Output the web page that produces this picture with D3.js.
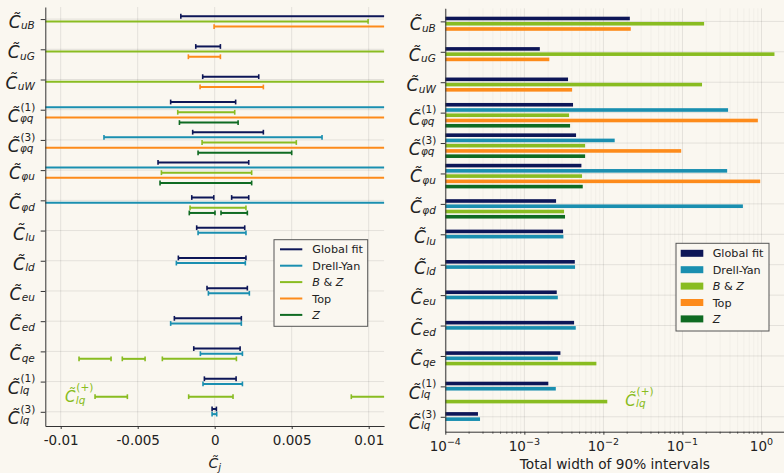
<!DOCTYPE html>
<html><head><meta charset="utf-8">
<script src="https://cdn.jsdelivr.net/npm/d3@7"></script>
<style>
html,body{margin:0;padding:0;background:#faf7f0;}
svg{display:block;font-family:"DejaVu Sans",sans-serif;}
</style></head><body>
<svg id="chart" width="784" height="473"></svg>
<script>
// ---------------- DATA ----------------
const labelSub = ["uB","uG","uW","φq","φq","φu","φd","lu","ld","eu","ed","qe","lq","lq"];
const labelSup = ["","","","(1)","(3)","","","","","","","","(1)","(3)"];
const seriesNames = ["Global fit","Drell-Yan","B & Z","Top","Z"];

// 90% intervals (left panel), one entry per coefficient, null = not constrained by that fit
const intervalsGlobal = [
  [[-0.0022, 0.0194]], [[-0.00123, 0.00037]], [[-0.00078, 0.00286]], [[-0.00286, 0.00136]],
  [[-0.00143, 0.00316]], [[-0.00368, 0.00221]], [[-0.00149, -0.00006], [0.0011, 0.00221]],
  [[-0.00117, 0.00195]], [[-0.00236, 0.00203]], [[-0.0005, 0.00212]], [[-0.00262, 0.00173]],
  [[-0.00136, 0.00165]], [[-0.00067, 0.00139]], [[-0.00017, 0.00011]]
];
const intervalsDY = [
  null, null, null, [[-0.19, 0.19]], [[-0.00719, 0.00697]], [[-0.18, 0.19]], [[-0.29, 0.29]],
  [[-0.00108, 0.00203]], [[-0.00249, 0.00199]], [[-0.00041, 0.00225]], [[-0.00286, 0.00173]],
  [[-0.00093, 0.0018]], [[-0.00076, 0.0018]], [[-0.00017, 0.00013]]
];
const intervalsBZ = [
  [[-0.178, 0.00996]], [[-0.73, 0.73]], [[-0.09, 0.087]], [[-0.0024, 0.0013]], [[-0.00082, 0.0053]],
  [[-0.00346, 0.0024]], [[-0.0016, 0.00203]], null, null, null, null,
  [[-0.00881, -0.00673], [-0.006, -0.00452], [-0.0034, 0.00141]], null, null
];
const intervalsTop = [
  [[-0.00004, 0.0222]], [[-0.00171, 0.00037]], [[-0.00095, 0.00316]], [[-0.45, 0.45]],
  [[-0.048, 0.048]], [[-0.48, 0.48]], null, null, null, null, null, null, null, null
];
const intervalsZ = [
  null, null, null, [[-0.00229, 0.00152]], [[-0.00108, 0.005]], [[-0.00355, 0.0024]],
  [[-0.00165, 0.00002], [0.00041, 0.00212]], null, null, null, null, null, null, null
];
// B & Z constraint on C_lq^(+)
const intervalsLqPlus = [[-0.00777, -0.00567], [-0.00169, 0.00119], [0.00887, 0.0151]];

// total width of 90% intervals (right panel)
const widthGlobal = [0.0216, 0.00157, 0.00357, 0.00413, 0.00451, 0.00527, 0.00252, 0.00309, 0.00435, 0.00257, 0.00426, 0.00286, 0.00201, 0.000259];
const widthDY     = [null, null, null, 0.378, 0.0139, 0.368, 0.582, 0.00312, 0.00438, 0.00265, 0.00447, 0.00265, 0.0025, 0.000275];
const widthBZ     = [0.188, 1.46, 0.177, 0.00368, 0.00587, 0.00537, 0.00318, null, null, null, null, 0.00815, null, null];
const widthTop    = [0.0222, 0.00207, 0.00402, 0.90, 0.0964, 0.963, null, null, null, null, null, null, null, null];
const widthZ      = [null, null, null, 0.00379, 0.00587, 0.00548, 0.00327, null, null, null, null, null, null, null];
const widthLqPlus = 0.0112;

const xTicksLeft = [-0.01, -0.005, 0, 0.005, 0.01];
const xTickLabelsLeft = ["-0.01", "-0.005", "0", "0.005", "0.01"];
const xTickExpRight = [-4, -3, -2, -1, 0];

// ---------------- STYLE ----------------
const BG = "#faf7f0";
const colors = ["#0d1657", "#1a8fb0", "#89bc21", "#fd8b1b", "#0f6b22"];
const INK = "#222";

const allIntervals = [intervalsGlobal, intervalsDY, intervalsBZ, intervalsTop, intervalsZ];
const allWidths = [widthGlobal, widthDY, widthBZ, widthTop, widthZ];
const nCat = labelSub.length;

const svg = d3.select("#chart");
svg.append("rect").attr("width", 784).attr("height", 473).attr("fill", BG);

function slotOffset(j, n, s) { return (j - (n >= 5 ? 1.5 : 0.55)) * s; }

// label "C~" with subscript and optional superscript (stacked); p = vertical layout
const tickLayout = { c: 17, s: 10.5, cNo: 9, subNo: 10.3, cSup: 12.4, sub: 12, sup: 0.8 };
const noteLayout = { c: 15, s: 10.5, cNo: 5.5, subNo: 7, cSup: 5.5, sub: 7.2, sup: -5.5 };
function cLabel(g, xEnd, y, sub, sup, p, color) {
  const grp = g.append("g").attr("fill", color || INK);
  const subT = grp.append("text").attr("font-style", "italic").attr("font-size", p.s).text(sub);
  let supT = null;
  if (sup) supT = grp.append("text").attr("font-size", p.s).text(sup);
  const w = Math.max(subT.node().getComputedTextLength(), supT ? supT.node().getComputedTextLength() : 0);
  const xs = xEnd - w;
  subT.attr("x", xs + 0.3).attr("y", y + (sup ? p.sub : p.subNo));
  if (supT) supT.attr("x", xs + 0.8).attr("y", y + p.sup);
  grp.append("text").attr("x", xs).attr("y", y + (sup ? p.cSup : p.cNo))
    .attr("text-anchor", "end").attr("font-style", "italic").attr("font-size", p.c).text("C\u0303");
  return grp;
}

// ================= LEFT PANEL =================
const xL = d3.scaleLinear().domain([-0.011, 0.011]).range([45.3, 384.1]);
const yL = d3.scaleLinear().domain([-0.4, 13.47]).range([7, 426]);
const gL = svg.append("g");
const [yTopL, yBotL] = yL.range();
// grid
gL.selectAll(".vg").data(xTicksLeft).join("line")
  .attr("x1", d => xL(d)).attr("x2", d => xL(d)).attr("y1", yTopL).attr("y2", yBotL)
  .attr("stroke", "#000").attr("stroke-opacity", 0.09);
gL.selectAll(".hg").data(d3.range(nCat)).join("line")
  .attr("x1", xL.range()[0]).attr("x2", xL.range()[1]).attr("y1", d => yL(d)).attr("y2", d => yL(d))
  .attr("stroke", "#000").attr("stroke-opacity", 0.09);

function drawInterval(g, x, lo, hi, y, col) {
  const [d0, d1] = x.domain();
  const a = Math.max(lo, d0), b = Math.min(hi, d1);
  if (b < a) return;
  g.append("line").attr("x1", x(a)).attr("x2", x(b)).attr("y1", y).attr("y2", y)
    .attr("stroke", col).attr("stroke-width", 2);
  if (lo >= d0) g.append("line").attr("x1", x(lo)).attr("x2", x(lo)).attr("y1", y - 2.4).attr("y2", y + 2.4).attr("stroke", col).attr("stroke-width", 1.6);
  if (hi <= d1) g.append("line").attr("x1", x(hi)).attr("x2", x(hi)).attr("y1", y - 2.4).attr("y2", y + 2.4).attr("stroke", col).attr("stroke-width", 1.6);
}

for (let i = 0; i < nCat; i++) {
  const present = allIntervals.map((arr, k) => arr[i] ? k : -1).filter(k => k >= 0);
  present.forEach((k, j) => {
    const y = yL(i) + slotOffset(j, present.length, 5.15);
    allIntervals[k][i].forEach(([lo, hi]) => drawInterval(gL, xL, lo, hi, y, colors[k]));
  });
}
intervalsLqPlus.forEach(([lo, hi]) => drawInterval(gL, xL, lo, hi, yL(12.5), colors[2]));

// axes
const axL = gL.append("g").attr("transform", `translate(0,${yBotL})`)
  .call(d3.axisBottom(xL).tickValues(xTicksLeft).tickFormat((d, i) => xTickLabelsLeft[i]).tickSize(3).tickSizeOuter(0));
axL.select(".domain").attr("stroke", "#333");
axL.selectAll(".tick line").attr("stroke", "#333");
axL.selectAll(".tick text").attr("font-size", 13.5).attr("fill", INK).attr("font-family", "DejaVu Sans").attr("dy", "0.95em");
const ayL = gL.append("g").attr("transform", `translate(${xL.range()[0]},0)`)
  .call(d3.axisLeft(yL).tickValues(d3.range(nCat)).tickFormat("").tickSize(4.6).tickSizeOuter(0));
ayL.select(".domain").attr("stroke", "#333");
ayL.selectAll(".tick line").attr("stroke", "#333");
for (let i = 0; i < nCat; i++) cLabel(gL, 34.5, yL(i), labelSub[i], labelSup[i], tickLayout);

// x label
const xlab = gL.append("text").attr("x", d3.mean(xL.range())).attr("y", 468).attr("text-anchor", "middle")
  .attr("fill", INK).attr("font-size", 14);
xlab.append("tspan").attr("font-style", "italic").text("C\u0303");
xlab.append("tspan").attr("font-style", "italic").attr("font-size", 10).attr("dy", 3).text("j");

// green annotation
cLabel(gL, xL(intervalsLqPlus[0][0]) - 2.5, yL(12.5), "lq", "(+)", noteLayout, colors[2]);

// legend left
const legL = gL.append("g");
legL.append("rect").attr("x", 274).attr("y", 239.7).attr("width", 93.7).attr("height", 86.6)
  .attr("fill", BG).attr("stroke", "#555").attr("stroke-width", 1);
function legendText(g, x, y, name) {
  const t = g.append("text").attr("x", x).attr("y", y + 4).attr("font-size", 11.2).attr("fill", INK);
  if (name === "B & Z") {
    t.append("tspan").attr("font-style", "italic").text("B");
    t.append("tspan").text(" & ");
    t.append("tspan").attr("font-style", "italic").text("Z");
  } else if (name === "Z") {
    t.append("tspan").attr("font-style", "italic").text("Z");
  } else t.text(name);
}
seriesNames.forEach((name, k) => {
  const y = 249.3 + k * 16.4;
  legL.append("line").attr("x1", 280).attr("x2", 302.3).attr("y1", y).attr("y2", y).attr("stroke", colors[k]).attr("stroke-width", 2);
  legendText(legL, 312.3, y, name);
});

// ================= RIGHT PANEL =================
const xR = d3.scaleLog().domain([1e-4, Math.pow(10, 0.29)]).range([445.3, 784.4]);
const yR = d3.scaleLinear().domain([-0.43, 13.49]).range([8.3, 431.7]);
const gR = svg.append("g");
const [yTopR, yBotR] = yR.range();
const majorR = xTickExpRight.map(e => Math.pow(10, e));
const minorR = [];
xTickExpRight.forEach(e => { for (let m = 2; m <= 9; m++) { const v = m * Math.pow(10, e); if (v <= xR.domain()[1]) minorR.push(v); } });
gR.selectAll(".mg").data(minorR).join("line")
  .attr("x1", d => xR(d)).attr("x2", d => xR(d)).attr("y1", yTopR).attr("y2", yBotR)
  .attr("stroke", "#000").attr("stroke-opacity", 0.035);
gR.selectAll(".vg").data(majorR).join("line")
  .attr("x1", d => xR(d)).attr("x2", d => xR(d)).attr("y1", yTopR).attr("y2", yBotR)
  .attr("stroke", "#000").attr("stroke-opacity", 0.09);
gR.selectAll(".hg").data(d3.range(nCat)).join("line")
  .attr("x1", xR.range()[0]).attr("x2", xR.range()[1]).attr("y1", d => yR(d)).attr("y2", d => yR(d))
  .attr("stroke", "#000").attr("stroke-opacity", 0.09);

const x0 = xR(1e-4);
function drawBar(g, w, y, col) {
  g.append("rect").attr("x", x0).attr("y", y - 1.8).attr("width", xR(w) - x0).attr("height", 3.6).attr("fill", col);
}
for (let i = 0; i < nCat; i++) {
  const present = allWidths.map((arr, k) => arr[i] != null ? k : -1).filter(k => k >= 0);
  present.forEach((k, j) => drawBar(gR, allWidths[k][i], yR(i) + slotOffset(j, present.length, 5.25), colors[k]));
}
drawBar(gR, widthLqPlus, yR(12.5), colors[2]);

const axR = gR.append("g").attr("transform", `translate(0,${yBotR})`)
  .call(d3.axisBottom(xR).tickValues(majorR).tickFormat("").tickSize(3).tickSizeOuter(0));
axR.select(".domain").attr("stroke", "#333");
axR.selectAll(".tick line").attr("stroke", "#333");
gR.selectAll(".mt").data(minorR).join("line")
  .attr("x1", d => xR(d)).attr("x2", d => xR(d)).attr("y1", yBotR).attr("y2", yBotR + 2)
  .attr("stroke", "#333").attr("stroke-width", 0.8);
xTickExpRight.forEach(e => {
  const t = gR.append("text").attr("x", xR(Math.pow(10, e))).attr("y", 450.7).attr("text-anchor", "middle")
    .attr("font-size", 13.5).attr("fill", INK);
  t.append("tspan").text("10");
  t.append("tspan").attr("font-size", 9.5).attr("dy", -6).text(e < 0 ? "\u2212" + (-e) : String(e));
});
const ayR = gR.append("g").attr("transform", `translate(${xR.range()[0]},0)`)
  .call(d3.axisLeft(yR).tickValues(d3.range(nCat)).tickFormat("").tickSize(4.6).tickSizeOuter(0));
ayR.select(".domain").attr("stroke", "#333");
ayR.selectAll(".tick line").attr("stroke", "#333");
for (let i = 0; i < nCat; i++) cLabel(gR, 435.5, yR(i), labelSub[i], labelSup[i], tickLayout);

gR.append("text").attr("x", d3.mean(xR.range())).attr("y", 469).attr("text-anchor", "middle")
  .attr("font-size", 13.7).attr("fill", INK).text("Total width of 90% intervals");

// green annotation right
(function () {
  const g = gR.append("g");
  const xs = xR(widthLqPlus) + 18;
  const tmp = cLabel(g, 0, yR(12.5) - 1.5, "lq", "(+)", noteLayout, colors[2]);
  const bb = tmp.node().getBBox();
  tmp.attr("transform", `translate(${xs - bb.x},0)`);
})();

// legend right
const legR = gR.append("g");
legR.append("rect").attr("x", 676).attr("y", 243.3).attr("width", 93).attr("height", 87.7)
  .attr("fill", BG).attr("stroke", "#555").attr("stroke-width", 1);
seriesNames.forEach((name, k) => {
  const y = 253.3 + k * 16.4;
  legR.append("rect").attr("x", 680.7).attr("y", y - 3.5).attr("width", 22.6).attr("height", 7).attr("fill", colors[k]);
  legendText(legR, 712.7, y, name);
});
</script>
</body></html>
